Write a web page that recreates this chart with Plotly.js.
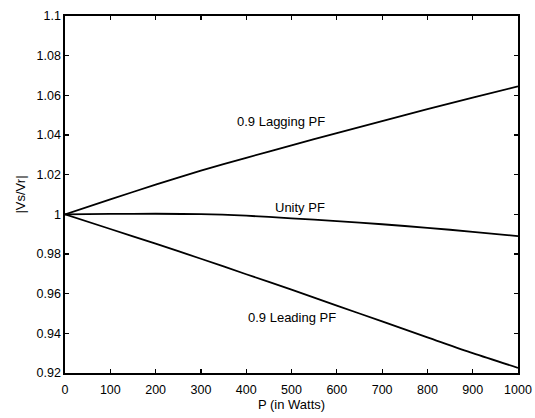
<!DOCTYPE html>
<html>
<head>
<meta charset="utf-8">
<script src="https://cdn.plot.ly/plotly-3.0.1.min.js"></script>
<style>html,body{margin:0;padding:0;background:#fff;}#chart{width:535px;height:418px;}</style>
</head>
<body>
<div id="chart"></div>
<script>
var powerW = [0, 100, 200, 300, 400, 500, 600, 700, 800, 900, 1000];
var laggingPF = [1.0, 1.0075, 1.015, 1.022, 1.0285, 1.0348, 1.041, 1.047, 1.053, 1.0588, 1.0645];
var unityPF = [1.0, 1.0002, 1.0003, 1.0001, 0.9993, 0.998, 0.9966, 0.995, 0.9932, 0.9912, 0.989];
var leadingPF = [1.0, 0.9926, 0.9852, 0.9776, 0.9698, 0.962, 0.954, 0.946, 0.938, 0.930, 0.9226];
var seriesNames = ['0.9 Lagging PF', 'Unity PF', '0.9 Leading PF'];
var labelX = [477, 519, 500];
var labelY = [1.0466, 1.0035, 0.948];
var xTicks = [0, 100, 200, 300, 400, 500, 600, 700, 800, 900, 1000];
var yTickVals = [0.92, 0.94, 0.96, 0.98, 1.0, 1.02, 1.04, 1.06, 1.08, 1.1];
var yTickText = ['0.92', '0.94', '0.96', '0.98', '1', '1.02', '1.04', '1.06', '1.08', '1.1'];

var font = 'Liberation Sans, Arial, sans-serif';
var series = [laggingPF, unityPF, leadingPF];
var traces = series.map(function (ys, i) {
  return {x: powerW, y: ys, type: 'scatter', mode: 'lines', name: seriesNames[i],
          line: {color: '#000', width: 1.8, shape: 'spline', smoothing: 0.8}, hoverinfo: 'skip'};
});
var annotations = seriesNames.map(function (t, i) {
  return {x: labelX[i], y: labelY[i], xref: 'x', yref: 'y', text: t, showarrow: false,
          font: {family: font, size: 13, color: '#000'}};
});
var axisCommon = {showgrid: false, zeroline: false, showline: true, linecolor: '#000', linewidth: 1.6,
  ticks: 'inside', ticklen: 4, tickwidth: 1.2, tickcolor: '#000', mirror: 'allticks',
  tickfont: {family: font, size: 12.5, color: '#000'}};
var layout = {
  width: 535, height: 418,
  margin: {l: 65, r: 17, t: 16, b: 45},
  paper_bgcolor: '#fff', plot_bgcolor: '#fff',
  showlegend: false,
  xaxis: Object.assign({}, axisCommon, {range: [0, 1000], tickvals: xTicks, ticklabelstandoff: 4,
    title: {text: 'P (in Watts)', font: {family: font, size: 13, color: '#000'}, standoff: 4}}),
  yaxis: Object.assign({}, axisCommon, {range: [0.92, 1.1], tickvals: yTickVals, ticktext: yTickText,
    title: {text: '|Vs/Vr|', font: {family: font, size: 13, color: '#000'}, standoff: 8}}),
  annotations: annotations
};
Plotly.newPlot('chart', traces, layout, {staticPlot: true, displayModeBar: false});
</script>
</body>
</html>
